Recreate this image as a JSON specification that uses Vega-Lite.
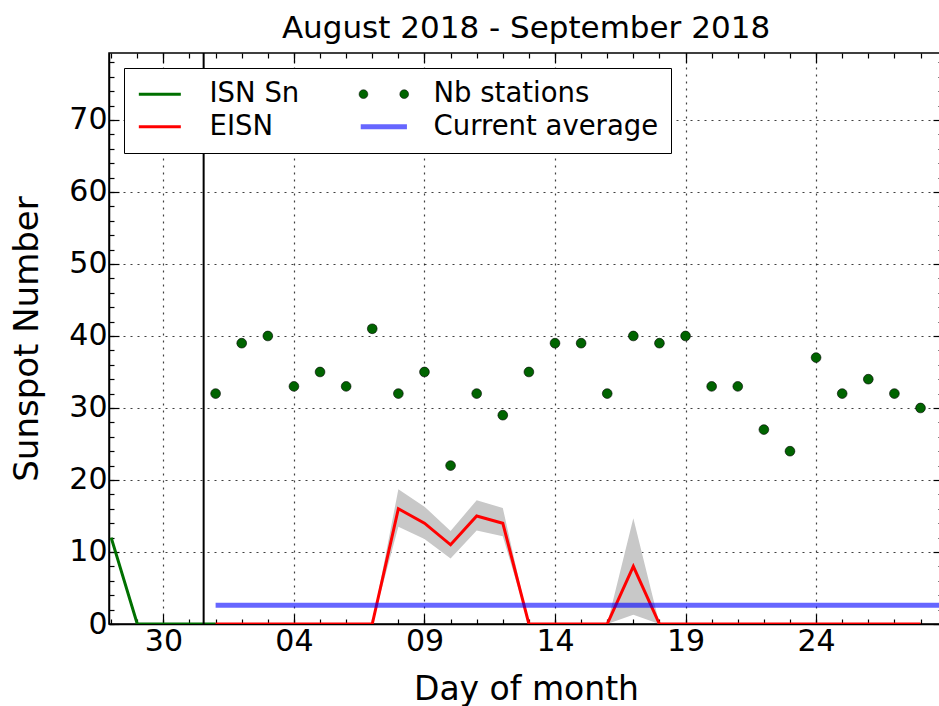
{
  "$schema": "https://vega.github.io/schema/vega-lite/v6.json",
  "autosize": "none",
  "width": 834,
  "height": 571,
  "padding": {"left": 109, "top": 53, "right": 0, "bottom": 82},
  "background": "white",
  "title": {"text": "August 2018 - September 2018", "fontSize": 31, "font": "DejaVu Sans", "fontWeight": "normal", "color": "#000", "offset": 7},
  "config": {
    "font": "DejaVu Sans",
    "view": {"stroke": "black", "strokeWidth": 1.5},
    "axis": {
      "labelFont": "DejaVu Sans",
      "titleFont": "DejaVu Sans",
      "labelColor": "#000",
      "titleColor": "#000",
      "titleFontWeight": "normal",
      "tickColor": "#000",
      "domainColor": "#000",
      "domainWidth": 1.5,
      "tickWidth": 1.2,
      "gridColor": "#000",
      "gridDash": [2, 5],
      "gridOpacity": 0.75,
      "gridWidth": 1.2
    }
  },
  "datasets": {
    "nb": [
      {"date": "2018-09-01", "series": "Nb stations", "value": 32},
      {"date": "2018-09-02", "series": "Nb stations", "value": 39},
      {"date": "2018-09-03", "series": "Nb stations", "value": 40},
      {"date": "2018-09-04", "series": "Nb stations", "value": 33},
      {"date": "2018-09-05", "series": "Nb stations", "value": 35},
      {"date": "2018-09-06", "series": "Nb stations", "value": 33},
      {"date": "2018-09-07", "series": "Nb stations", "value": 41},
      {"date": "2018-09-08", "series": "Nb stations", "value": 32},
      {"date": "2018-09-09", "series": "Nb stations", "value": 35},
      {"date": "2018-09-10", "series": "Nb stations", "value": 22},
      {"date": "2018-09-11", "series": "Nb stations", "value": 32},
      {"date": "2018-09-12", "series": "Nb stations", "value": 29},
      {"date": "2018-09-13", "series": "Nb stations", "value": 35},
      {"date": "2018-09-14", "series": "Nb stations", "value": 39},
      {"date": "2018-09-15", "series": "Nb stations", "value": 39},
      {"date": "2018-09-16", "series": "Nb stations", "value": 32},
      {"date": "2018-09-17", "series": "Nb stations", "value": 40},
      {"date": "2018-09-18", "series": "Nb stations", "value": 39},
      {"date": "2018-09-19", "series": "Nb stations", "value": 40},
      {"date": "2018-09-20", "series": "Nb stations", "value": 33},
      {"date": "2018-09-21", "series": "Nb stations", "value": 33},
      {"date": "2018-09-22", "series": "Nb stations", "value": 27},
      {"date": "2018-09-23", "series": "Nb stations", "value": 24},
      {"date": "2018-09-24", "series": "Nb stations", "value": 37},
      {"date": "2018-09-25", "series": "Nb stations", "value": 32},
      {"date": "2018-09-26", "series": "Nb stations", "value": 34},
      {"date": "2018-09-27", "series": "Nb stations", "value": 32},
      {"date": "2018-09-28", "series": "Nb stations", "value": 30}
    ],
    "isn": [
      {"date": "2018-08-28", "value": 12},
      {"date": "2018-08-29", "value": 0},
      {"date": "2018-08-30", "value": 0},
      {"date": "2018-08-31", "value": 0},
      {"date": "2018-09-01", "value": 0}
    ],
    "eisn": [
      {"date": "2018-09-01", "value": 0, "lo": 0, "hi": 0},
      {"date": "2018-09-02", "value": 0, "lo": 0, "hi": 0},
      {"date": "2018-09-03", "value": 0, "lo": 0, "hi": 0},
      {"date": "2018-09-04", "value": 0, "lo": 0, "hi": 0},
      {"date": "2018-09-05", "value": 0, "lo": 0, "hi": 0},
      {"date": "2018-09-06", "value": 0, "lo": 0, "hi": 0},
      {"date": "2018-09-07", "value": 0, "lo": 0, "hi": 0},
      {"date": "2018-09-08", "value": 16, "lo": 13.5, "hi": 18.7},
      {"date": "2018-09-09", "value": 14, "lo": 11.8, "hi": 16.3},
      {"date": "2018-09-10", "value": 11, "lo": 9.1, "hi": 12.9},
      {"date": "2018-09-11", "value": 15, "lo": 13, "hi": 17.2},
      {"date": "2018-09-12", "value": 14, "lo": 12.2, "hi": 16.1},
      {"date": "2018-09-13", "value": 0, "lo": 0, "hi": 0},
      {"date": "2018-09-14", "value": 0, "lo": 0, "hi": 0},
      {"date": "2018-09-15", "value": 0, "lo": 0, "hi": 0},
      {"date": "2018-09-16", "value": 0, "lo": 0, "hi": 0},
      {"date": "2018-09-17", "value": 8, "lo": 1.3, "hi": 14.7},
      {"date": "2018-09-18", "value": 0, "lo": 0, "hi": 0},
      {"date": "2018-09-19", "value": 0, "lo": 0, "hi": 0},
      {"date": "2018-09-20", "value": 0, "lo": 0, "hi": 0},
      {"date": "2018-09-21", "value": 0, "lo": 0, "hi": 0},
      {"date": "2018-09-22", "value": 0, "lo": 0, "hi": 0},
      {"date": "2018-09-23", "value": 0, "lo": 0, "hi": 0},
      {"date": "2018-09-24", "value": 0, "lo": 0, "hi": 0},
      {"date": "2018-09-25", "value": 0, "lo": 0, "hi": 0},
      {"date": "2018-09-26", "value": 0, "lo": 0, "hi": 0},
      {"date": "2018-09-27", "value": 0, "lo": 0, "hi": 0},
      {"date": "2018-09-28", "value": 0, "lo": 0, "hi": 0}
    ],
    "avg": [
      {"date": "2018-09-01", "value": 2.6},
      {"date": "2018-09-30", "value": 2.6}
    ],
    "vline": [
      {"date": "2018-08-31T13:00:00Z"}
    ]
  },
  "resolve": {"axis": {"x": "independent", "y": "independent"}},
  "layer": [
    {
      "data": {"name": "eisn"},
      "mark": {"type": "area", "color": "#c8c8c8", "opacity": 1, "clip": true},
      "encoding": {
        "x": {
          "field": "date", "type": "temporal",
          "scale": {"type": "utc", "domain": [{"year": 2018, "month": 8, "date": 27, "hours": 22, "utc": true}, {"year": 2018, "month": 9, "date": 28, "hours": 20, "minutes": 40, "utc": true}]},
          "axis": {
            "orient": "bottom", "title": "Day of month", "titleFontSize": 33, "titlePadding": 17,
            "values": [
              {"year": 2018, "month": 8, "date": 30, "utc": true},
              {"year": 2018, "month": 9, "date": 4, "utc": true},
              {"year": 2018, "month": 9, "date": 9, "utc": true},
              {"year": 2018, "month": 9, "date": 14, "utc": true},
              {"year": 2018, "month": 9, "date": 19, "utc": true},
              {"year": 2018, "month": 9, "date": 24, "utc": true}
            ],
            "format": "%d", "labelFontSize": 30, "tickSize": -10, "labelPadding": 12, "grid": true, "labelFlush": false
          }
        },
        "y": {
          "field": "lo", "type": "quantitative",
          "scale": {"domain": [0, 79.3], "nice": false, "zero": true},
          "axis": {
            "orient": "left", "title": "Sunspot Number", "titleFontSize": 34, "titlePadding": 24,
            "values": [0, 10, 20, 30, 40, 50, 60, 70],
            "labelFontSize": 30, "tickSize": -10, "labelPadding": 12, "grid": true, "labelFlush": false
          }
        },
        "y2": {"field": "hi"}
      }
    },
    {
      "data": {"name": "isn"},
      "mark": {"type": "line", "color": "#007000", "strokeWidth": 3, "clip": true},
      "encoding": {
        "x": {
          "field": "date", "type": "temporal",
          "scale": {"type": "utc", "domain": [{"year": 2018, "month": 8, "date": 27, "hours": 22, "utc": true}, {"year": 2018, "month": 9, "date": 28, "hours": 20, "minutes": 40, "utc": true}]},
          "axis": {
            "orient": "top", "title": null, "labels": false, "grid": false, "domain": false, "tickSize": -10,
            "values": [
              {"year": 2018, "month": 8, "date": 30, "utc": true},
              {"year": 2018, "month": 9, "date": 4, "utc": true},
              {"year": 2018, "month": 9, "date": 9, "utc": true},
              {"year": 2018, "month": 9, "date": 14, "utc": true},
              {"year": 2018, "month": 9, "date": 19, "utc": true},
              {"year": 2018, "month": 9, "date": 24, "utc": true}
            ]
          }
        },
        "y": {
          "field": "value", "type": "quantitative",
          "scale": {"domain": [0, 79.3], "nice": false, "zero": true},
          "axis": {"orient": "right", "title": null, "labels": false, "grid": false, "domain": false, "tickSize": -10, "values": [0, 10, 20, 30, 40, 50, 60, 70]}
        }
      }
    },
    {
      "data": {"name": "eisn"},
      "mark": {"type": "line", "color": "#ff0000", "strokeWidth": 3, "clip": true},
      "encoding": {
        "x": {
          "field": "date", "type": "temporal",
          "scale": {"type": "utc", "domain": [{"year": 2018, "month": 8, "date": 27, "hours": 22, "utc": true}, {"year": 2018, "month": 9, "date": 28, "hours": 20, "minutes": 40, "utc": true}]},
          "axis": {"orient": "bottom", "title": null, "labels": false, "grid": false, "domain": false, "tickSize": -5, "tickCount": {"interval": "day", "step": 1}}
        },
        "y": {
          "field": "value", "type": "quantitative",
          "scale": {"domain": [0, 79.3], "nice": false, "zero": true},
          "axis": {"orient": "left", "title": null, "labels": false, "grid": false, "domain": false, "tickSize": -5,
            "values": [0, 2, 4, 6, 8, 10, 12, 14, 16, 18, 20, 22, 24, 26, 28, 30, 32, 34, 36, 38, 40, 42, 44, 46, 48, 50, 52, 54, 56, 58, 60, 62, 64, 66, 68, 70, 72, 74, 76, 78]}
        }
      }
    },
    {
      "data": {"name": "avg"},
      "mark": {"type": "line", "color": "#0000ff", "opacity": 0.6, "strokeWidth": 5, "clip": true},
      "encoding": {
        "x": {
          "field": "date", "type": "temporal",
          "scale": {"type": "utc", "domain": [{"year": 2018, "month": 8, "date": 27, "hours": 22, "utc": true}, {"year": 2018, "month": 9, "date": 28, "hours": 20, "minutes": 40, "utc": true}]},
          "axis": {"orient": "top", "title": null, "labels": false, "grid": false, "domain": false, "tickSize": -5, "tickCount": {"interval": "day", "step": 1}}
        },
        "y": {
          "field": "value", "type": "quantitative",
          "scale": {"domain": [0, 79.3], "nice": false, "zero": true},
          "axis": {"orient": "right", "title": null, "labels": false, "grid": false, "domain": false, "tickSize": -5,
            "values": [0, 2, 4, 6, 8, 10, 12, 14, 16, 18, 20, 22, 24, 26, 28, 30, 32, 34, 36, 38, 40, 42, 44, 46, 48, 50, 52, 54, 56, 58, 60, 62, 64, 66, 68, 70, 72, 74, 76, 78]}
        }
      }
    },
    {
      "data": {"name": "vline"},
      "mark": {"type": "rule", "color": "#000", "strokeWidth": 2},
      "encoding": {
        "x": {
          "field": "date", "type": "temporal",
          "scale": {"type": "utc", "domain": [{"year": 2018, "month": 8, "date": 27, "hours": 22, "utc": true}, {"year": 2018, "month": 9, "date": 28, "hours": 20, "minutes": 40, "utc": true}]},
          "axis": null
        }
      }
    },
    {
      "data": {"name": "nb"},
      "mark": {"type": "point", "shape": "circle", "filled": true, "size": 95, "stroke": "#000", "strokeWidth": 0.6, "opacity": 1},
      "encoding": {
        "x": {
          "field": "date", "type": "temporal",
          "scale": {"type": "utc", "domain": [{"year": 2018, "month": 8, "date": 27, "hours": 22, "utc": true}, {"year": 2018, "month": 9, "date": 28, "hours": 20, "minutes": 40, "utc": true}]},
          "axis": null
        },
        "y": {
          "field": "value", "type": "quantitative",
          "scale": {"domain": [0, 79.3], "nice": false, "zero": true},
          "axis": null
        },
        "color": {
          "field": "series", "type": "nominal",
          "scale": {"domain": ["ISN Sn", "EISN", "Nb stations", "Current average"], "range": ["#007000", "#ff0000", "#006400", "#6666ff"]},
          "legend": {
            "title": null, "orient": "top-left", "offset": 15, "columns": 2,
            "strokeColor": "#000", "fillColor": "#fff", "padding": 12,
            "labelFontSize": 27.5, "labelFont": "DejaVu Sans", "labelColor": "#000", "labelLimit": 500,
            "symbolSize": 1764, "labelOffset": 46, "columnPadding": 50, "rowPadding": 4,
            "symbolOpacity": 1,
            "symbolType": {"expr": "datum.value === 'Nb stations' ? 'M-0.70,0a0.21,0.21 0 1,0 0.42,0a0.21,0.21 0 1,0 -0.42,0M1.24,0a0.21,0.21 0 1,0 0.42,0a0.21,0.21 0 1,0 -0.42,0' : datum.value === 'Current average' ? 'M-0.62,0H1.58' : 'M-0.52,0H1.48'"},
            "symbolStrokeColor": {"expr": "datum.value === 'Nb stations' ? '#000' : datum.value === 'EISN' ? '#ff0000' : datum.value === 'ISN Sn' ? '#007000' : '#6666ff'"},
            "symbolStrokeWidth": {"expr": "datum.value === 'Nb stations' ? 0.5 : datum.value === 'Current average' ? 5 : 3"}
          }
        }
      }
    }
  ]
}
